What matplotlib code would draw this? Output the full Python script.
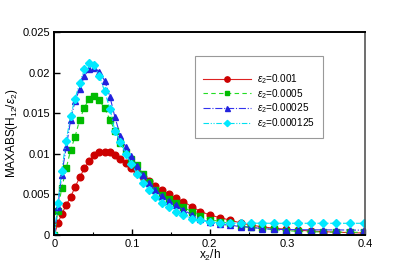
import matplotlib
matplotlib.use("Agg")
import matplotlib.pyplot as plt
from matplotlib.ticker import MultipleLocator

plt.rcParams['font.family'] = ['Liberation Sans', 'DejaVu Sans']
plt.rcParams['mathtext.fontset'] = 'custom'
plt.rcParams['mathtext.rm'] = 'Liberation Sans'
plt.rcParams['mathtext.it'] = 'Liberation Sans:italic'

# wall-normal positions (x2/h), same for all runs
x2h = [0, 0.0045, 0.0094, 0.0152, 0.021, 0.0266, 0.0326, 0.0386, 0.0446, 0.0514,
       0.0579, 0.0647, 0.0716, 0.078, 0.085, 0.092, 0.099, 0.1065, 0.114, 0.122,
       0.130, 0.138, 0.147, 0.156, 0.166, 0.177, 0.188, 0.2006, 0.2135, 0.226,
       0.240, 0.253, 0.267, 0.282, 0.298, 0.314, 0.330, 0.346, 0.363, 0.381, 0.398]

eps_001 = [0, 0.00144, 0.00255, 0.0037, 0.0047, 0.0059, 0.0071, 0.0082, 0.0091, 0.0098,
           0.0102, 0.01026, 0.0102, 0.0099, 0.0094, 0.0089, 0.0083, 0.0076, 0.0071, 0.0066,
           0.0060, 0.0055, 0.0050, 0.0046, 0.0041, 0.0035, 0.0029, 0.00246, 0.00213, 0.00185,
           0.00148, 0.00123, 0.00102, 0.00085, 0.00072, 0.0006, 0.0005, 0.00042, 0.00035, 0.0003, 0.00025]

eps_0005 = [0, 0.00296, 0.00575, 0.0082, 0.0105, 0.0121, 0.0142, 0.0157, 0.01675, 0.0171,
            0.0166, 0.0156, 0.0142, 0.0128, 0.0113, 0.0102, 0.0094, 0.0086, 0.0075, 0.0065,
            0.0055, 0.0049, 0.0044, 0.0039, 0.0034, 0.0029, 0.00235, 0.0019, 0.00165, 0.00145,
            0.0011, 0.00095, 0.00082, 0.0007, 0.00055, 0.00045, 0.0004, 0.00038, 0.00036, 0.00034, 0.00033]

eps_00025 = [0, 0.0035, 0.0074, 0.0108, 0.0142, 0.0165, 0.0180, 0.0196, 0.0204, 0.0206,
             0.0201, 0.0190, 0.0170, 0.0145, 0.0122, 0.0108, 0.0097, 0.0085, 0.0074, 0.0064,
             0.0055, 0.0048, 0.0042, 0.0037, 0.0031, 0.0025, 0.0020, 0.0016, 0.0013, 0.00123,
             0.00103, 0.00095, 0.0008, 0.0007, 0.00068, 0.00066, 0.00065, 0.00064, 0.00063, 0.00062, 0.0006]

eps_000125 = [0, 0.0039, 0.0079, 0.0116, 0.0147, 0.0168, 0.0187, 0.0205, 0.0212, 0.0209,
              0.0196, 0.0177, 0.0155, 0.0128, 0.0115, 0.0100, 0.0088, 0.0075, 0.0064, 0.0055,
              0.0047, 0.0040, 0.0034, 0.0029, 0.0025, 0.0020, 0.0018, 0.0016, 0.0015, 0.00148,
              0.00147, 0.00146, 0.00146, 0.00145, 0.00145, 0.00145, 0.00145, 0.00145, 0.00145, 0.00145, 0.00145]

labels = [r'$\varepsilon_2$=0.001', r'$\varepsilon_2$=0.0005',
          r'$\varepsilon_2$=0.00025', r'$\varepsilon_2$=0.000125']

fig = plt.figure(figsize=(4.15, 2.65), dpi=100)
ax = fig.add_axes([0.131, 0.113, 0.749, 0.766])

ax.plot(x2h, eps_001, color='#dd2222', ls='-', lw=0.8, marker='o', ms=4.8,
        mfc='#cc0000', mec='#cc0000', label=labels[0])
ax.plot(x2h, eps_0005, color='#22dd22', ls=(0, (4, 3)), lw=0.8, marker='s', ms=4.0,
        mfc='#00bb00', mec='#00bb00', label=labels[1])
ax.plot(x2h, eps_00025, color='#3333ee', ls='-.', lw=0.8, marker='^', ms=4.5,
        mfc='#2222dd', mec='#2222dd', label=labels[2])
ax.plot(x2h, eps_000125, color='#00e0f0', ls=(0, (5, 1.5, 1, 1.5, 1, 1.5)), lw=0.8, marker='D', ms=4.0,
        mfc='#00e8ff', mec='#00e8ff', label=labels[3])

ax.set_xlim(0, 0.4)
ax.set_ylim(0, 0.025)
ax.xaxis.set_minor_locator(MultipleLocator(0.05))
ax.set_xticks([0, 0.1, 0.2, 0.3, 0.4])
ax.set_xticklabels(['0', '0.1', '0.2', '0.3', '0.4'])
ax.set_yticks([0, 0.005, 0.01, 0.015, 0.02, 0.025])
ax.set_yticklabels(['0', '0.005', '0.01', '0.015', '0.02', '0.025'])
ax.tick_params(which='both', direction='in', top=False, right=False, labelsize=8, pad=3)
ax.tick_params(which='major', length=4.5, width=1)
ax.tick_params(which='minor', length=2.5, width=0.8)
for s in ['left', 'bottom', 'top']:
    ax.spines[s].set_linewidth(1.4)
ax.spines['right'].set_linewidth(1.2)
ax.spines['right'].set_color('#555555')

ax.set_xlabel(r'x$_2$/h', fontsize=8.5, labelpad=-1)
ax.set_ylabel(r'MAXABS(H$_{12}$/$\varepsilon_2$)', fontsize=8.5)
ax.yaxis.set_label_coords(-0.112, 0.5)

leg = ax.legend(loc='upper left', bbox_to_anchor=(0.452, 0.882), fontsize=7.2, title=' ',
                title_fontsize=6, numpoints=1, handlelength=4.8, handletextpad=0.6,
                labelspacing=0.1, borderpad=0.8, borderaxespad=0, fancybox=False, framealpha=1,
                edgecolor='#999999', markerscale=0.8)
leg.get_frame().set_linewidth(0.8)

fig.savefig('out.png', dpi=100)
